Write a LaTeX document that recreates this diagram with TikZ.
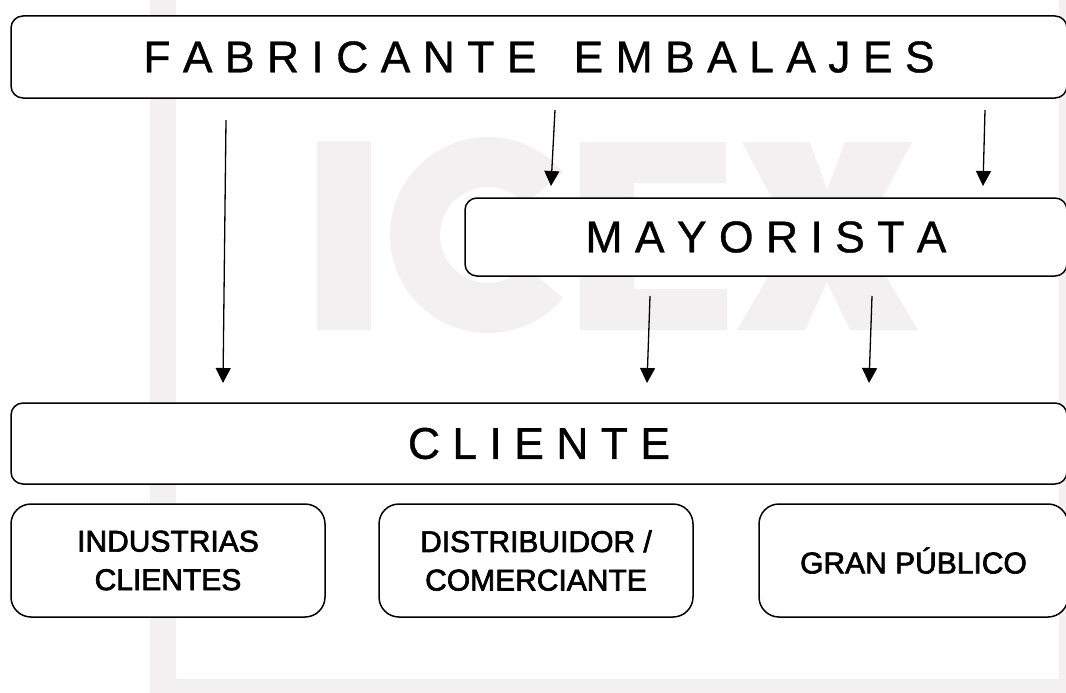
\documentclass[tikz,border=0pt]{standalone}
\usepackage{fontspec}
\setmainfont{Liberation Sans}
\newfontfamily\titlefont[FakeBold=0.8]{Liberation Sans}
\newfontfamily\smallfont[FakeBold=2.2]{Liberation Sans}
\usetikzlibrary{arrows.meta,calc}
\definecolor{wm}{RGB}{243,240,241}
\tikzset{
  bigbox/.style={draw=black, line width=1.5pt, fill=white, rounded corners=12pt, inner sep=0pt,
    font=\titlefont\fontsize{44.5}{50}\selectfont},
  smallbox/.style={draw=black, line width=1.5pt, fill=white, rounded corners=20pt, inner sep=0pt,
    minimum width=314pt, minimum height=113pt, align=center,
    font=\smallfont\fontsize{30}{38.5}\selectfont},
  flow/.style={line width=1.3pt, -{Triangle[length=15pt,width=15pt]}}
}
\begin{document}
\begin{tikzpicture}[x=1pt,y=-1pt]
\useasboundingbox (0,0) rectangle (1066,693);
\clip (0,0) rectangle (1066,693);
\fill[white] (0,0) rectangle (1066,693);
% watermark frame
\fill[wm, even odd rule] (150,-20) rectangle (1090,710) (176,-20) rectangle (1059,679);
% watermark letters ICEX
\fill[wm] (317,141) rectangle (371,330);
\fill[wm] ($(488,235)+(40:98)$) arc[start angle=40, end angle=320, radius=98]
  -- ($(488,235)+(320:48)$) arc[start angle=320, end angle=40, radius=48] -- cycle;
\fill[wm] (580,142) -- (726,142) -- (726,183) -- (634,183) -- (634,216) -- (716,216)
  -- (716,256) -- (634,256) -- (634,289) -- (727,289) -- (727,330) -- (580,330) -- cycle;
\fill[wm] (742,142) -- (810,142) -- (827,190) -- (845,142) -- (912,142) -- (862,236)
  -- (918,330) -- (850,330) -- (827,282) -- (805,330) -- (737,330) -- (792,236) -- cycle;
% boxes
\node[bigbox, minimum width=1056pt, minimum height=82pt] (fab) at (539,57)
  {F A B R I C A N T E\ \ \ E M B A L A J E S};
\node[bigbox, minimum width=602pt, minimum height=78pt] (may) at (766,237)
  {M A Y O R I S T A};
\node[bigbox, minimum width=1056pt, minimum height=81pt] (cli) at (539,443.5)
  {C L I E N T E};
\node[smallbox] (ind) at (168,560.5) {INDUSTRIAS\\CLIENTES};
\node[smallbox] (dis) at (536,560.5) {DISTRIBUIDOR /\\COMERCIANTE};
\node[smallbox, minimum width=309pt] (gran) at (913.5,560.5) {\raisebox{-10pt}{GRAN PÚBLICO}};
% arrow end points
\coordinate (a1s) at (226,120); \coordinate (a1e) at (223,383);
\coordinate (a2s) at (555,110); \coordinate (a2e) at (551,186);
\coordinate (a3s) at (985,110); \coordinate (a3e) at (983,186);
\coordinate (a4s) at (650,296); \coordinate (a4e) at (647,383);
\coordinate (a5s) at (872,296); \coordinate (a5e) at (869,383);
\draw[flow] (a1s) -- (a1e);
\draw[flow] (a2s) -- (a2e);
\draw[flow] (a3s) -- (a3e);
\draw[flow] (a4s) -- (a4e);
\draw[flow] (a5s) -- (a5e);
\end{tikzpicture}
\end{document}
